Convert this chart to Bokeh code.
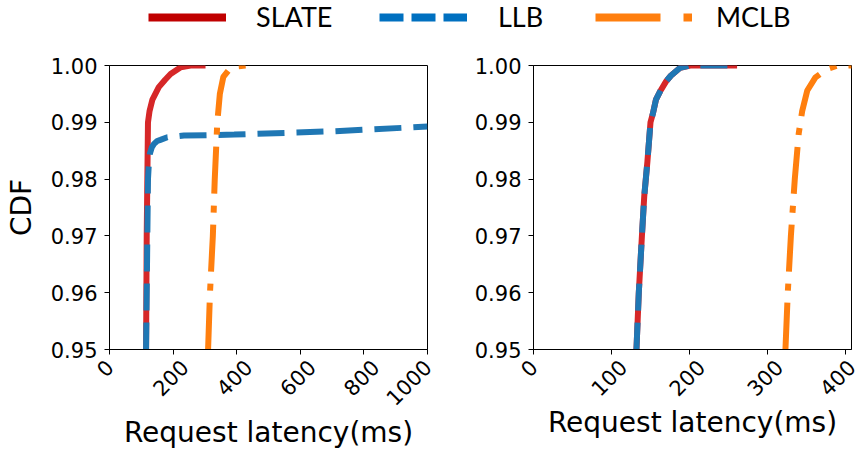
import math
from bokeh.plotting import figure
from bokeh.layouts import column, row
from bokeh.models import (Legend, LegendItem, FixedTicker, NumeralTickFormatter, Range1d,
                          CustomJSTickFormatter, LinearAxis)
from bokeh.embed import file_html
from bokeh.resources import INLINE

# ---------------- data ----------------
series_names = ["SLATE", "LLB", "MCLB"]

# left panel
slate_left_x = [115, 117, 119, 121, 126, 135, 155, 175, 192, 224, 255, 302]
slate_left_y = [0.95, 0.97, 0.98, 0.99, 0.992, 0.994, 0.9962, 0.9975, 0.9985, 0.9997, 1.0, 1.0]
llb_left_x = [115, 119, 121, 124, 127, 133, 140, 150, 160, 182, 234, 392, 706, 1000]
llb_left_y = [0.95, 0.97, 0.98, 0.983, 0.9845, 0.9856, 0.9862, 0.9867, 0.9869, 0.98736, 0.98766, 0.98784, 0.98842, 0.98925]
mclb_left_x = [310, 316, 325, 331, 339, 347, 358, 375, 391, 428]
mclb_left_y = [0.95, 0.96, 0.97, 0.98, 0.99, 0.995, 0.998, 0.9992, 0.9998, 1.0]

# right panel
slate_right_x = [132, 135, 139, 142, 146, 150, 153, 157, 163, 170, 176, 188, 201, 261]
slate_right_y = [0.95, 0.96, 0.97, 0.977, 0.983, 0.99, 0.9915, 0.994, 0.9956, 0.9972, 0.9982, 0.9996, 1.0, 1.0]
llb_right_x = [132, 135, 139, 142, 146, 150, 153, 157, 163, 170, 176, 188, 201, 261]
llb_right_y = [0.95, 0.96, 0.97, 0.977, 0.983, 0.99, 0.9915, 0.994, 0.9956, 0.9972, 0.9982, 0.9996, 1.0, 1.0]
mclb_right_x = [323, 326, 330, 335, 340, 344.5, 351, 361.5, 376.5, 389, 408]
mclb_right_y = [0.95, 0.96, 0.97, 0.98, 0.988, 0.992, 0.9956, 0.9979, 0.9994, 0.99995, 1.0]

y_ticks = [0.95, 0.96, 0.97, 0.98, 0.99, 1.00]
left_x_ticks = [0, 200, 400, 600, 800, 1000]
right_x_ticks = [0, 100, 200, 300, 400]

# ---------------- styles ----------------
RED, BLUE, ORANGE = "#d62728", "#1f77b4", "#ff7f0e"
LEG_RED, LEG_BLUE, LEG_ORANGE = "#c00000", "#0070c0", "#ff7f0e"
LW = 6
AX_FONT = "DejaVu Sans"
TICK_PX = 21
FRAME_W = 318


def style(p, xticks, title_standoff, ylabel=None):
    p.xgrid.visible = False
    p.ygrid.visible = False
    p.outline_line_color = "black"
    p.outline_line_width = 1
    p.outline_line_alpha = 1
    for ax in (p.xaxis[0], p.yaxis[0]):
        ax.axis_line_color = "black"
        ax.major_tick_line_color = "black"
        ax.major_tick_line_width = 1
        ax.minor_tick_line_color = None
        ax.major_tick_out = 5
        ax.major_tick_in = 0
        ax.major_label_text_color = "black"
        ax.major_label_text_font = AX_FONT
        ax.major_label_text_font_size = f"{TICK_PX}px"
    # main x axis: tick marks only
    xa = p.xaxis[0]
    xa.ticker = FixedTicker(ticks=xticks)
    xa.formatter = CustomJSTickFormatter(code="return ''")
    xa.major_label_text_font_size = "1px"
    xa.major_label_standoff = 0

    # second x axis: rotated labels, nudged so each label is centred on its tick
    start, end = p.x_range.start, p.x_range.end
    units_per_px = (end - start) / FRAME_W
    pos, overrides = [], {}
    for t in xticks:
        s = str(t)
        shift_px = 7.5 * len(s) - 11
        v = round(min(max(t + shift_px * units_per_px, start), end), 2)
        pos.append(v)
        overrides[v] = s
    lab = LinearAxis(ticker=FixedTicker(ticks=pos), major_label_overrides=overrides,
                     axis_line_color=None, major_tick_line_color=None,
                     minor_tick_line_color=None, major_tick_out=0, major_tick_in=0,
                     major_label_orientation=math.pi / 4, major_label_standoff=9,
                     major_label_text_font=AX_FONT, major_label_text_font_size=f"{TICK_PX}px",
                     major_label_text_color="black",
                     axis_label="Request latency(ms)", axis_label_standoff=title_standoff,
                     axis_label_text_font=AX_FONT, axis_label_text_font_size="28px",
                     axis_label_text_font_style="normal", axis_label_text_color="black")
    p.add_layout(lab, "below")

    ya = p.yaxis[0]
    ya.ticker = FixedTicker(ticks=y_ticks)
    ya.formatter = NumeralTickFormatter(format="0.00")
    ya.major_label_standoff = 7
    if ylabel:
        ya.axis_label = ylabel
        ya.axis_label_standoff = 10
        ya.axis_label_text_font = AX_FONT
        ya.axis_label_text_font_size = "28px"
        ya.axis_label_text_font_style = "normal"
        ya.axis_label_text_color = "black"


def draw(p, sx, sy, lx, ly, mx, my):
    p.line(sx, sy, line_color=RED, line_width=LW)
    p.line(lx, ly, line_color=BLUE, line_width=LW, line_dash="27 12")
    p.line(mx, my, line_color=ORANGE, line_width=LW, line_dash="47 12 7 12")


p1 = figure(width=453, height=413, output_backend="svg", toolbar_location=None,
            x_range=Range1d(0, 1000), y_range=Range1d(0.95, 1.0),
            min_border_left=109, min_border_right=26, min_border_top=27, min_border_bottom=102)
style(p1, left_x_ticks, 0, "CDF")
draw(p1, slate_left_x, slate_left_y, llb_left_x, llb_left_y, mclb_left_x, mclb_left_y)

p2 = figure(width=412, height=413, output_backend="svg", toolbar_location=None,
            x_range=Range1d(0, 407.7), y_range=Range1d(0.95, 1.0),
            min_border_left=80, min_border_right=14, min_border_top=27, min_border_bottom=102)
style(p2, right_x_ticks, 0)
draw(p2, slate_right_x, slate_right_y, llb_right_x, llb_right_y, mclb_right_x, mclb_right_y)

# ---------------- legend strip ----------------
leg = figure(width=865, height=38, output_backend="svg", toolbar_location=None,
             x_axis_type=None, y_axis_type=None, min_border=0,
             x_range=Range1d(-2, -1), y_range=Range1d(-2, -1))
leg.outline_line_color = None
leg.xgrid.visible = False
leg.ygrid.visible = False
# renderers carry the real series (kept outside the strip's ranges); only their legend glyphs show
r_s = leg.line(slate_left_x, slate_left_y, line_color=LEG_RED, line_width=8)
r_l = leg.line(llb_left_x, llb_left_y, line_color=LEG_BLUE, line_width=8, line_dash="24 8")
r_m = leg.line(mclb_left_x, mclb_left_y, line_color=LEG_ORANGE, line_width=8, line_dash="65 23 9 23")

for name, rend, x0, gw, so in [(series_names[0], r_s, 148, 78, 30),
                               (series_names[1], r_l, 379, 88, 31),
                               (series_names[2], r_m, 595, 97, 24)]:
    lg = Legend(items=[LegendItem(label=name, renderers=[rend])], location=(x0, 5),
                orientation="horizontal", glyph_width=gw, glyph_height=20,
                label_height=20, label_standoff=so, padding=0, margin=0, spacing=0,
                border_line_color=None, background_fill_alpha=0,
                label_text_font="Lato", label_text_font_size="27px",
                label_text_color="black")
    leg.add_layout(lg)

layout = column(leg, row(p1, p2))
open("out.html", "w").write(file_html(layout, INLINE))
